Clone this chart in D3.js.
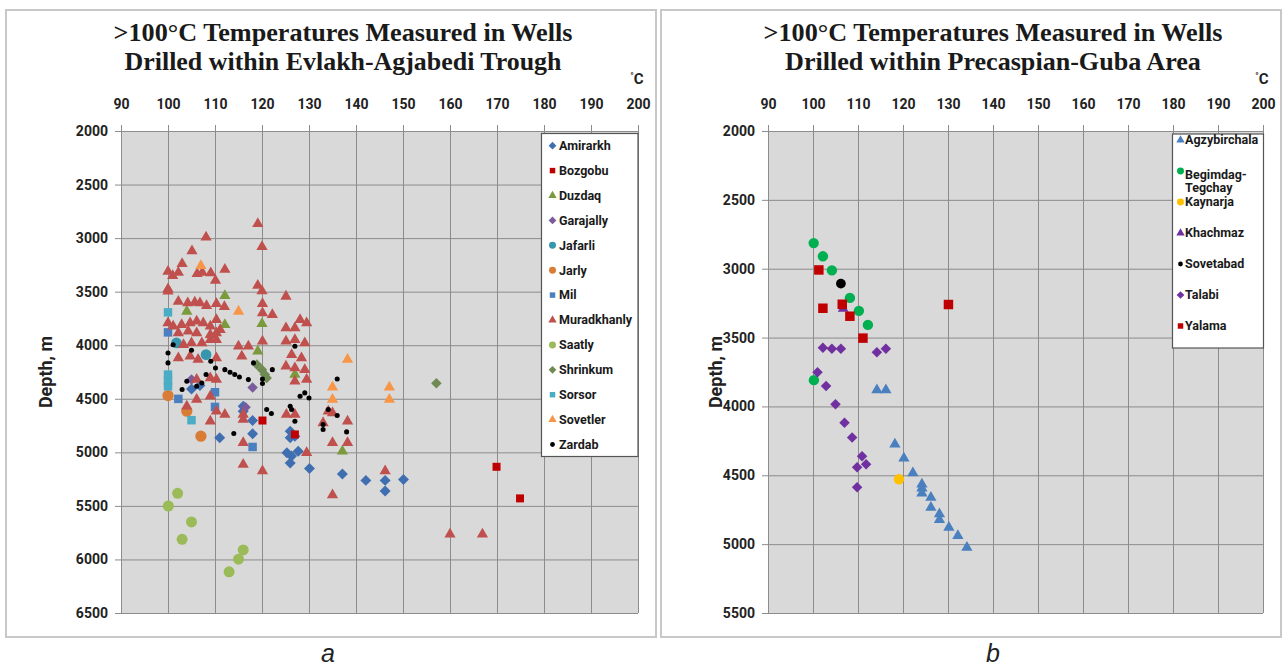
<!DOCTYPE html>
<html>
<head>
<meta charset="utf-8">
<script src="https://cdnjs.cloudflare.com/ajax/libs/d3/7.8.5/d3.min.js"></script>
<style>
  body { margin: 0; background: #fff; }
  text { font-family: Roboto, "Liberation Sans", sans-serif; }
</style>
</head>
<body>
<svg id="chart" width="1285" height="666"></svg>
<script>
// ---- data: [temperature °C, depth m] ----
const tempTicks = [90, 100, 110, 120, 130, 140, 150, 160, 170, 180, 190, 200];
const depthTicksA = [2000, 2500, 3000, 3500, 4000, 4500, 5000, 5500, 6000, 6500];
const depthTicksB = [2000, 2500, 3000, 3500, 4000, 4500, 5000, 5500];

const amirarkh = [[105,4408],[106.8,4377],[116,4570],[116,4616],[118,4703],[118,4827],[111,4864],
  [126,4802],[127,4849],[126,4864],[125.3,5004],[126.3,5035],[127.7,4989],[126,5100],[130.1,5150],
  [137.1,5203],[142.1,5262],[146.2,5262],[146.2,5361],[150.1,5253]];
const bozgobu = [[120.1,4703],[127,4833],[169.9,5135],[174.9,5430]];
const duzdaq = [[112.1,3538],[104,3684],[112.1,3808],[120,3799],[119.1,4057],[127,4274],[137.1,4989]];
const garajally = [[105,4320],[118,4395],[116.5,4580]];
const jafarli = [[101.8,3979],[108.1,4088]];
const jarly = [[100,4470],[104,4616],[107,4849]];
const mil = [[100,3880],[102.2,4501],[110,4439],[110,4576],[118,4950]];
const muradkhanly = [[119.1,2867],[108.1,2991],[120,3081],[105.1,3121],[103,3240],[100,3311],[101,3351],
  [102.2,3320],[106.2,3333],[107.3,3320],[109.1,3326],[110.1,3395],[112.1,3292],[119.1,3442],[120,3494],
  [125.1,3544],[100,3475],[100,3497],[102.2,3591],[104.2,3606],[105.7,3600],[106.8,3606],[108.2,3631],
  [110.3,3612],[112,3640],[120.1,3612],[122.2,3715],[120.1,3700],[128.1,3762],[129.5,3793],[125.1,3839],
  [127,3839],[100,3793],[101.1,3824],[102.9,3808],[104.7,3793],[106.1,3777],[107.5,3793],[109,3824],
  [110.3,3762],[111.1,3855],[102.2,3886],[104.3,3870],[106.1,3886],[109,3902],[110.3,3886],[103.3,3995],
  [105,3979],[107.2,3979],[109,3948],[110.3,3948],[115,4010],[117.1,4010],[120.1,3964],[125.1,3964],
  [127,3948],[129.1,3979],[102.2,4119],[104.7,4103],[106.4,4134],[110.3,4119],[115.7,4103],[126.3,4088],
  [128.4,4119],[125.1,4197],[127,4212],[129.1,4228],[106.1,4321],[109,4305],[110.3,4321],[127,4336],
  [129.5,4321],[106.1,4507],[109,4476],[104,4570],[110.3,4616],[112.1,4647],[109,4709],[116,4647],
  [116,4693],[125.2,4647],[127,4647],[116,4911],[129.5,5004],[116,5113],[120.1,5175],[134.1,4616],
  [135,4632],[138.2,4709],[133,4725],[135,4911],[138.2,4911],[146.2,5175],[135,5399],[160,5765],[166.9,5765]];
const saatly = [[102.05,5383],[100.07,5501],[105,5650],[103,5812],[116,5911],[115,5998],[113,6116]];
const shrinkum = [[118.9,4181],[120,4228],[120.6,4274],[121,4305],[157.1,4355]];
const sorsor = [[100,3693],[100,4274],[100,4330],[100,4383],[105,4700]];
const sovetler = [[107,3258],[115,3684],[138.2,4134],[135,4392],[135,4507],[147.1,4392],[147.1,4507]];
const zardab = [[101.1,3995],[100,4072],[100,4165],[105,4047],[108.1,4274],[109.1,4150],[110.1,4212],
  [112.1,4228],[113.2,4252],[114.2,4274],[115.2,4296],[117.1,4321],[118.2,4165],[120.1,4315],[120.1,4358],
  [122.2,4228],[127,4010],[104,4336],[103,4414],[106.1,4383],[107.2,4352],[128.1,4476],[129.1,4445],
  [130,4492],[126,4570],[126.3,4600],[127,4709],[121,4600],[122,4638],[114,4824],[133,4740],[133,4787],
  [136,4315],[134.1,4600],[136,4656],[138,4809]];

const agzybirchala = [[114.2,3881],[116.2,3881],[118.2,4275],[120.2,4376],[122.2,4483],[124.2,4565],
  [124.2,4594],[124.2,4630],[126.2,4661],[126.2,4734],[128.1,4782],[128.1,4823],[130.2,4879],[132.2,4939],[134.2,5024]];
const begimdag = [[100.15,2814],[102.2,2910],[104.2,3012],[108.2,3212],[110.2,3306],[112.2,3408],[100.2,3809]];
const kaynarja = [[119.1,4529]];
const khachmaz = [[106.7,3290]];
const sovetabad = [[106.2,3108]];
const talabi = [[102.2,3574],[104.2,3582],[106.2,3582],[114.2,3606],[116.2,3582],[101,3751],[102.9,3852],
  [105,3985],[107,4118],[108.7,4225],[110.9,4362],[109.8,4442],[111.8,4420],[109.8,4587]];
const yalama = [[101.3,3009],[102.2,3287],[106.5,3258],[108.2,3345],[111.1,3504],[130.1,3260]];

// ---- series (name, values) and their marker styles ----
const seriesA = [
  ["Amirarkh", amirarkh], ["Bozgobu", bozgobu], ["Duzdaq", duzdaq], ["Garajally", garajally],
  ["Jafarli", jafarli], ["Jarly", jarly], ["Mil", mil], ["Muradkhanly", muradkhanly],
  ["Saatly", saatly], ["Shrinkum", shrinkum], ["Sorsor", sorsor], ["Sovetler", sovetler], ["Zardab", zardab]
];
const seriesB = [
  ["Agzybirchala", agzybirchala], ["Begimdag-|Tegchay", begimdag], ["Kaynarja", kaynarja],
  ["Khachmaz", khachmaz], ["Sovetabad", sovetabad], ["Talabi", talabi], ["Yalama", yalama]
];
const markStyle = {
  "Amirarkh": ["diamond", "#3f6fb0", 60], "Bozgobu": ["square", "#c00000", 64],
  "Duzdaq": ["triangle", "#7a9a3c", 55], "Garajally": ["diamond", "#7a5b9c", 55],
  "Jafarli": ["circle", "#3596ad", 90], "Jarly": ["circle", "#d97c35", 100],
  "Mil": ["square", "#4a7fc0", 72], "Muradkhanly": ["triangle", "#c0504d", 55],
  "Saatly": ["circle", "#9bbb59", 95], "Shrinkum": ["diamond", "#6f8a52", 55],
  "Sorsor": ["square", "#4bacc6", 72], "Sovetler": ["triangle", "#f79646", 55],
  "Zardab": ["circle", "#000000", 20],
  "Agzybirchala": ["triangle", "#4a7fc0", 55], "Begimdag-|Tegchay": ["circle", "#00b050", 85],
  "Kaynarja": ["circle", "#ffc000", 85], "Khachmaz": ["triangle", "#7030a0", 50],
  "Sovetabad": ["circle", "#000000", 75], "Talabi": ["diamond", "#7030a0", 55],
  "Yalama": ["square", "#c00000", 90]
};

const svg = d3.select("#chart");

function symbolPath(type, size) {
  const t = { triangle: d3.symbolTriangle, square: d3.symbolSquare, diamond: d3.symbolSquare, circle: d3.symbolCircle }[type];
  return d3.symbol().type(t).size(size)();
}

function fitText(sel, maxW) {
  sel.each(function () {
    const w = this.getComputedTextLength();
    const fs = parseFloat(this.getAttribute("font-size"));
    if (w > 0) this.setAttribute("font-size", (fs * maxW / w).toFixed(2));
  });
}

function drawPanel(cfg) {
  const g = svg.append("g");
  // panel frame
  g.append("rect").attr("x", cfg.frame[0]).attr("y", cfg.frame[1])
    .attr("width", cfg.frame[2]).attr("height", cfg.frame[3])
    .attr("fill", "#fff").attr("stroke", "#c8c8c8").attr("stroke-width", 2);

  const x = d3.scaleLinear().domain([90, 200]).range([cfg.x0, cfg.x1]);
  const y = d3.scaleLinear().domain([2000, cfg.depthTicks[cfg.depthTicks.length - 1]]).range([cfg.y0, cfg.y1]);

  // title
  cfg.title.forEach((line, i) => {
    g.append("text").attr("x", cfg.titleX).attr("y", 41 + i * 29)
      .attr("text-anchor", "middle").attr("font-size", 22).attr("font-weight", "bold")
      .style("font-family", '"Liberation Serif", "DejaVu Serif", serif').attr("fill", "#1a1a1a")
      .text(line).call(fitText, cfg.titleW[i]);
  });

  g.append("rect").attr("x", cfg.x0).attr("y", cfg.y0)
    .attr("width", cfg.x1 - cfg.x0).attr("height", cfg.y1 - cfg.y0).attr("fill", "#d9d9d9");

  // grid
  g.append("g").attr("transform", `translate(0,${cfg.y0})`)
    .call(d3.axisTop(x).tickValues(tempTicks).tickSize(-(cfg.y1 - cfg.y0)).tickFormat(""))
    .call(a => a.select(".domain").remove())
    .call(a => a.selectAll("line").attr("stroke", "#8c8c8c"));
  g.append("g").attr("transform", `translate(${cfg.x0},0)`)
    .call(d3.axisLeft(y).tickValues(cfg.depthTicks).tickSize(-(cfg.x1 - cfg.x0)).tickFormat(""))
    .call(a => a.select(".domain").remove())
    .call(a => a.selectAll("line").attr("stroke", "#8c8c8c"));

  // axes with labels
  const xa = g.append("g").attr("transform", `translate(0,${cfg.y0})`)
    .call(d3.axisTop(x).tickValues(tempTicks).tickSize(6).tickSizeOuter(0).tickPadding(16).tickFormat(d3.format("d")));
  const ya = g.append("g").attr("transform", `translate(${cfg.x0},0)`)
    .call(d3.axisLeft(y).tickValues(cfg.depthTicks).tickSize(6).tickSizeOuter(0).tickPadding(7).tickFormat(d3.format("d")));
  [xa, ya].forEach(a => {
    a.select(".domain").attr("stroke", "#8c8c8c");
    a.selectAll("line").attr("stroke", "#8c8c8c");
    a.selectAll("text").attr("font-size", 14).attr("font-weight", "bold")
      .attr("fill", "#222").style("font-family", 'Roboto, "Liberation Sans", sans-serif');
  });

  g.append("text").attr("x", cfg.x1 - 1).attr("y", 84).attr("text-anchor", "middle")
    .attr("font-size", 15).attr("font-weight", "bold").attr("fill", "#222")
    .html('<tspan font-size="9" dy="-5">°</tspan><tspan dy="5">C</tspan>');

  g.append("text").attr("transform", `translate(${cfg.yLabelX},${(cfg.y0 + cfg.y1) / 2}) rotate(-90)`)
    .attr("text-anchor", "middle").attr("font-size", 18).attr("font-weight", "bold")
    .attr("fill", "#222").text("Depth, m");

  // points
  const pts = g.append("g");
  cfg.series.forEach(([name, values]) => {
    const [type, color, size] = markStyle[name];
    pts.selectAll(null).data(values).enter().append("path")
      .attr("d", symbolPath(type, size))
      .attr("transform", d => `translate(${x(d[0])},${y(d[1])})` + (type === "diamond" ? " rotate(45)" : ""))
      .attr("fill", color);
  });

  // legend
  const L = cfg.legend;
  g.append("rect").attr("x", L.x).attr("y", L.y).attr("width", L.w).attr("height", L.h)
    .attr("fill", "#fff").attr("stroke", "#555").attr("stroke-width", 1.2);
  cfg.series.forEach(([name], i) => {
    const [type, color] = markStyle[name];
    const cy = L.first + i * L.step;
    const lines = name.split("|");
    const ls = type === "circle" ? (name === "Zardab" || name === "Sovetabad" ? 18 : 38) : 30;
    g.append("path").attr("d", symbolPath(type, ls))
      .attr("transform", `translate(${L.mx},${cy})` + (type === "diamond" ? " rotate(45)" : ""))
      .attr("fill", color);
    lines.forEach((ln, j) => {
      g.append("text").attr("x", L.tx).attr("y", cy + (lines.length > 1 ? 4 : 0) + j * 13)
        .attr("dy", "0.35em").attr("font-size", 12.5).attr("font-weight", "bold")
        .attr("fill", "#1a1a1a").text(ln);
    });
  });

  g.append("text").attr("x", cfg.letterX).attr("y", 662).attr("text-anchor", "middle")
    .attr("font-size", 25).attr("font-style", "italic").attr("fill", "#222")
    .style("font-family", '"Liberation Sans", Arial, sans-serif').text(cfg.letter);
}

drawPanel({
  frame: [6, 10, 650, 627], x0: 121, x1: 638, y0: 131, y1: 613, depthTicks: depthTicksA,
  title: [">100°C Temperatures Measured in Wells", "Drilled within Evlakh-Agjabedi Trough"],
  titleX: 343, titleW: [459, 437], yLabelX: 52, series: seriesA,
  legend: { x: 541.5, y: 133.5, w: 96.5, h: 323, first: 145.7, step: 24.9, mx: 552.5, tx: 559 },
  letter: "a", letterX: 328
});
drawPanel({
  frame: [661, 10, 620, 627], x0: 768, x1: 1263, y0: 131, y1: 613, depthTicks: depthTicksB,
  title: [">100°C Temperatures Measured in Wells", "Drilled within Precaspian-Guba Area"],
  titleX: 993, titleW: [459, 416], yLabelX: 722, series: seriesB,
  legend: { x: 1172.5, y: 134, w: 91, h: 214, first: 140, step: 31, mx: 1180.5, tx: 1185 },
  letter: "b", letterX: 993
});
</script>
</body>
</html>
